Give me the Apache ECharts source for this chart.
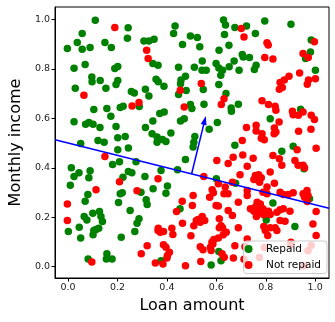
<!DOCTYPE html>
<html>
<head>
<meta charset="utf-8">
<script src="https://cdn.jsdelivr.net/npm/echarts@6/dist/echarts.min.js"></script>
<style>
  html, body { margin: 0; padding: 0; background: #fff; }
  #chart { width: 335px; height: 322px; }
</style>
</head>
<body>
<div id="chart"></div>
<script>
// Loan applicants: [loan amount, monthly income], both scaled to 0..1
const repaid = [
  [0.110,0.997],[0.057,0.944],[0.243,0.967],[0.037,0.907],[-0.003,0.883],[0.057,0.880],[0.089,0.887],
  [0.149,0.907],[0.175,0.887],[0.240,0.924],[0.307,0.913],[0.327,0.913],[0.024,0.803],[0.069,0.818],
  [0.189,0.802],[0.201,0.810],[0.096,0.768],[0.097,0.748],[0.130,0.753],[0.201,0.753],[0.194,0.737],
  [0.029,0.722],[0.153,0.722],[0.256,0.709],[0.268,0.703],[0.313,0.718],[0.327,0.691],[0.288,0.648],
  [0.211,0.644],[0.223,0.649],[0.104,0.636],[0.157,0.640],[0.173,0.609],[0.024,0.587],[0.071,0.576],
  [0.084,0.583],[0.101,0.576],[0.129,0.563],[0.194,0.567],[0.313,0.563],[0.051,0.498],[0.121,0.511],
  [0.146,0.504],[0.201,0.522],[0.231,0.527],
  [0.201,0.473],[0.244,0.480],[0.180,0.413],[0.208,0.425],[0.275,0.425],[0.013,0.400],[0.024,0.365],
  [0.044,0.380],[0.089,0.388],[0.084,0.360],[0.009,0.329],[0.080,0.292],[0.069,0.265],[0.244,0.385],
  [0.258,0.380],[0.222,0.362],[0.311,0.365],[0.211,0.295],[0.219,0.299],[0.204,0.260],[0.295,0.301],
  [0.316,0.271],[0.320,0.252],[0.100,0.216],[0.065,0.203],[0.076,0.189],[0.127,0.223],[0.133,0.203],
  [0.139,0.183],[0.001,0.142],[0.045,0.159],[0.051,0.116],[0.104,0.146],[0.113,0.150],[0.124,0.155],
  [0.101,0.129],[0.251,0.227],[0.287,0.194],[0.279,0.176],[0.270,0.142],[0.215,0.119],[0.157,0.052],
  [0.155,0.031],[0.178,0.031],[0.081,0.031],
  [0.629,0.998],[0.637,0.978],[0.675,0.968],[0.433,0.974],[0.427,0.944],[0.495,0.934],[0.523,0.928],
  [0.633,0.940],[0.348,0.920],[0.463,0.899],[0.533,0.890],[0.651,0.896],[0.611,0.876],[0.343,0.822],
  [0.364,0.815],[0.447,0.807],[0.511,0.807],[0.543,0.832],[0.542,0.795],[0.559,0.795],[0.599,0.822],
  [0.610,0.804],[0.618,0.775],[0.625,0.795],[0.652,0.809],[0.672,0.832],[0.692,0.795],[0.356,0.759],
  [0.365,0.748],[0.388,0.730],[0.457,0.755],[0.455,0.740],[0.475,0.771],[0.610,0.737],[0.447,0.697],
  [0.478,0.713],[0.547,0.717],[0.639,0.701],[0.689,0.657],[0.660,0.642],[0.661,0.629],[0.495,0.656],
  [0.501,0.640],[0.550,0.657],[0.371,0.620],[0.389,0.626],[0.455,0.590],[0.470,0.599],[0.604,0.583],
  [0.343,0.590],[0.340,0.538],[0.360,0.525],[0.382,0.515],[0.416,0.541],[0.360,0.504],[0.396,0.507],
  [0.513,0.527],[0.509,0.504],[0.571,0.556],
  [0.722,0.974],[0.758,0.944],[0.796,0.994],[0.902,0.981],[0.984,0.917],[0.981,0.869],[0.961,0.843],
  [0.705,0.859],[0.709,0.849],[0.734,0.847],[0.761,0.815],[0.754,0.798],[1.001,0.795],[0.941,0.637],
  [0.818,0.599],
  [0.506,0.484],[0.675,0.491],[0.475,0.434],[0.443,0.392],[0.376,0.389],[0.600,0.356],[0.678,0.338],
  [0.402,0.326],[0.396,0.297],[0.344,0.315],[0.453,0.234],[0.610,0.061],[0.619,0.024],[0.376,0.024],
  [0.579,0.007],
  [0.911,0.487],[0.865,0.467],[0.955,0.396],[0.977,0.275],[0.829,0.258],[0.802,0.189],[0.918,0.162]
];

const notRepaid = [
  [0.189,0.968],[0.064,0.694],[0.259,0.650],[0.287,0.664],
  [0.149,0.446],[0.113,0.311],[-0.003,0.254],[0.208,0.344],[0.279,0.307],[-0.003,0.187],[0.320,0.085],
  [0.296,0.052],[0.096,0.019],
  [0.318,0.876],[0.324,0.843],[0.539,0.741],[0.454,0.714],[0.631,0.680],[0.620,0.656],[0.470,0.646],
  [0.701,0.964],[0.712,0.930],[0.805,0.906],[0.810,0.897],[0.997,0.910],[0.951,0.863],[0.972,0.847],
  [0.796,0.847],[0.829,0.840],[0.937,0.784],[0.894,0.771],[0.875,0.755],[0.858,0.745],[0.867,0.725],
  [0.855,0.718],[0.973,0.755],[0.968,0.738],[1.001,0.761],[0.785,0.671],[0.811,0.656],[0.838,0.649],
  [0.841,0.633],[0.908,0.629],[0.911,0.615],[0.932,0.613],[0.951,0.626],[0.984,0.613],[0.997,0.596],
  [0.854,0.585],[0.722,0.563],[0.761,0.572],[0.761,0.549],[0.785,0.538],[0.782,0.520],[0.794,0.514],
  [0.835,0.561],[0.841,0.545],[0.834,0.538],[0.933,0.548],[0.983,0.556],[0.705,0.511],
  [0.602,0.430],[0.668,0.443],[0.648,0.417],[0.364,0.356],[0.549,0.365],[0.608,0.336],[0.636,0.322],
  [0.647,0.295],[0.631,0.295],[0.665,0.342],[0.583,0.311],[0.588,0.299],[0.573,0.281],[0.506,0.288],
  [0.503,0.247],[0.462,0.265],[0.599,0.247],[0.608,0.245],[0.439,0.223],[0.648,0.227],[0.665,0.207],
  [0.543,0.203],[0.526,0.191],[0.519,0.187],[0.535,0.180],[0.553,0.187],[0.612,0.194],[0.619,0.166],
  [0.625,0.157],[0.612,0.157],[0.463,0.176],[0.509,0.166],[0.364,0.146],[0.373,0.139],[0.386,0.142],
  [0.365,0.155],[0.420,0.155],[0.424,0.130],[0.497,0.125],[0.590,0.110],[0.586,0.092],[0.576,0.078],
  [0.582,0.099],[0.608,0.116],[0.628,0.129],[0.640,0.139],[0.386,0.089],[0.396,0.078],[0.410,0.058],
  [0.402,0.045],[0.400,0.035],[0.535,0.081],[0.546,0.068],[0.675,0.085],[0.579,0.065],[0.623,0.052],
  [0.632,0.038],[0.669,0.035],[0.353,0.015],[0.384,0.011],[0.475,0.004],[0.537,0.021],
  [0.927,0.473],[1.004,0.479],[0.707,0.452],[0.749,0.439],[0.829,0.450],[0.855,0.437],[0.865,0.410],
  [0.918,0.430],[0.931,0.410],[0.951,0.410],[0.957,0.400],[0.725,0.406],[0.696,0.372],[0.758,0.369],
  [0.771,0.372],[0.765,0.352],[0.782,0.360],[0.775,0.342],[0.752,0.353],[0.818,0.383],[0.835,0.338],
  [0.805,0.322],[0.725,0.308],[0.725,0.288],[0.789,0.301],[0.805,0.295],[0.689,0.261],[0.858,0.301],
  [0.871,0.292],[0.891,0.292],[0.911,0.299],[0.951,0.295],[0.967,0.308],[0.971,0.288],[0.957,0.281],
  [0.968,0.264],[0.765,0.261],[0.778,0.254],[0.738,0.234],[0.752,0.224],[0.758,0.241],[0.771,0.227],
  [0.789,0.234],[0.781,0.216],[0.762,0.203],[0.792,0.210],[0.805,0.216],[0.818,0.211],[0.811,0.224],
  [0.845,0.220],[0.858,0.230],[0.871,0.234],[0.898,0.224],[1.004,0.223],[0.792,0.162],[0.798,0.146],
  [0.808,0.126],[0.818,0.157],[0.838,0.157],[0.845,0.146],[0.858,0.187],[0.878,0.184],[0.991,0.173],
  [0.689,0.157],[1.004,0.126],[0.725,0.112],[0.902,0.099],
  [0.716,0.081],[0.712,0.030],[0.774,0.037],[0.794,0.077],[0.902,0.090],[0.971,0.064],[0.984,0.086],
  [0.955,0.003]
];

// Decision boundary and its normal vector
const boundaryX = [-0.053, 1.056];
const boundaryY = [0.514, 0.236];
const normalStart = [0.500, 0.376];
const normalEnd = [0.553, 0.592];

const tickValues = [0, 0.2, 0.4, 0.6, 0.8, 1.0];

const FONT = 'DejaVu Sans';

const axisCommon = {
  type: 'value',
  splitLine: { show: false },
  axisLine: { show: true, onZero: false, lineStyle: { color: '#000', width: 1 } },
  axisTick: { show: true, customValues: tickValues, length: 3.5, lineStyle: { color: '#000', width: 1 } },
  axisLabel: {
    customValues: tickValues,
    formatter: v => v.toFixed(1),
    fontFamily: FONT, fontSize: 9.5, color: '#222', margin: 5
  },
  nameLocation: 'middle',
  nameTextStyle: { fontFamily: FONT, fontSize: 16, color: '#000' }
};

const chart = echarts.init(document.getElementById('chart'), null, { renderer: 'canvas' });

chart.setOption({
  animation: false,
  grid: {
    left: 49, right: 6, top: 7, bottom: 44,
    show: true, borderColor: '#000', borderWidth: 1, backgroundColor: 'transparent'
  },
  xAxis: Object.assign({}, axisCommon, {
    min: -0.053, max: 1.056,
    name: 'Loan amount', nameGap: 20
  }),
  yAxis: Object.assign({}, axisCommon, {
    min: -0.046, max: 1.051,
    name: 'Monthly income', nameGap: 30, nameRotate: 90
  }),
  legend: {
    data: ['Repaid', 'Not repaid'],
    orient: 'vertical',
    right: 8, top: 241,
    icon: 'circle',
    itemWidth: 25, itemHeight: 8, itemGap: 4,
    padding: [2, 6, 2.5, 1],
    backgroundColor: 'rgba(255,255,255,0.8)',
    borderColor: '#ccc', borderWidth: 1, borderRadius: 3,
    textStyle: { fontFamily: FONT, fontSize: 10.5, color: '#000', lineHeight: 12 }
  },
  series: [
    {
      name: 'Repaid', type: 'scatter', data: repaid,
      symbolSize: 7.5, itemStyle: { color: '#008000', opacity: 1 }, z: 2
    },
    {
      name: 'Not repaid', type: 'scatter', data: notRepaid,
      symbolSize: 7.5, itemStyle: { color: '#ff0000', opacity: 1 }, z: 3
    },
    {
      name: 'boundary', type: 'line',
      data: boundaryX.map((x, i) => [x, boundaryY[i]]),
      symbol: 'none', silent: true, z: 4,
      lineStyle: { color: '#0000ff', width: 1.5 },
      markLine: {
        silent: true,
        symbol: ['none', 'triangle'],
        symbolSize: [6, 9],
        label: { show: false },
        lineStyle: { color: '#0000ff', width: 1.5, type: 'solid' },
        data: [[{ coord: normalStart }, { coord: normalEnd }]]
      }
    }
  ]
});
</script>
</body>
</html>
